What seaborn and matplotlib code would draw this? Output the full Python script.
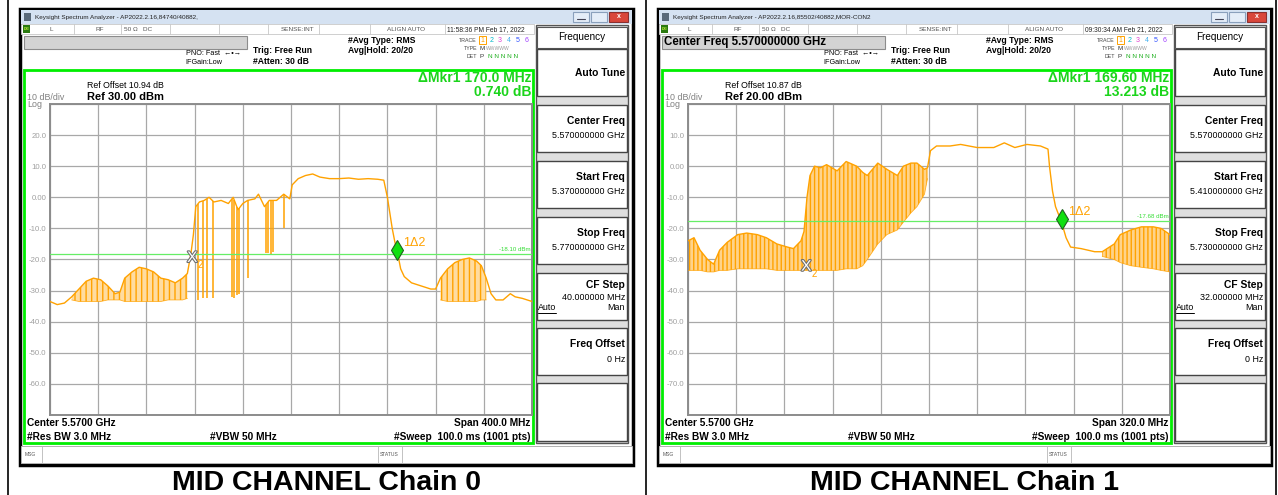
import numpy as np
import matplotlib.pyplot as plt
from matplotlib.patches import Rectangle
import matplotlib.patheffects as pe
import seaborn as sns

# ---- trace data (MHz, dBm) ----
# Chain 0 : span 5370 - 5770 MHz, ref 30 dBm
c0_freq = [5370, 5376, 5382, 5388, 5394, 5400, 5406, 5412, 5418, 5424, 5428, 5432,
           5438, 5444, 5450, 5456, 5462, 5468, 5474, 5480, 5484, 5487, 5489, 5491,
           5494, 5498, 5502, 5506, 5512, 5518, 5522, 5526, 5530, 5534, 5540, 5543,
           5548, 5552, 5558, 5564, 5569, 5571, 5576, 5582, 5588, 5594, 5602, 5610,
           5618, 5626, 5634, 5642, 5647, 5650, 5652, 5654, 5656, 5659, 5661, 5664,
           5670, 5678, 5686, 5690, 5694, 5700, 5706, 5712, 5718, 5724, 5728, 5732,
           5736, 5740, 5746, 5752, 5756, 5762, 5770]
c0_top = [-33.5, -34.5, -34.0, -32.0, -29.5, -27.0, -26.0, -26.5, -28.5, -31.0, -30.5, -26.0,
          -24.0, -22.5, -23.0, -24.0, -26.0, -26.5, -27.5, -26.0, -24.5, -18.0, -12.0, -3.0,
          -1.5, -1.0, 0.0, -1.5, -1.0, -2.0, 0.0, -4.0, -2.0, -1.0, -0.5, 1.0,
          -3.0, -1.0, -1.0, 1.0, -0.5, 4.0, 6.0, 7.0, 7.5, 6.5, 6.0, 6.0,
          6.2, 5.8, 6.0, 5.8, 5.5, 0.0, -5.0, -10.0, -14.0, -19.0, -23.0, -25.5,
          -27.5, -28.5, -29.5, -29.5, -26.0, -23.0, -21.0, -20.0, -19.5, -20.5, -22.0, -26.0,
          -31.0, -33.0, -33.0, -31.0, -32.0, -32.5, -33.5]
c0_low = [-33.5, -34.5, -34.0, -33.0, -33.5, -33.5, -33.5, -33.5, -33.0, -33.0, -33.0, -33.5,
          -33.5, -33.5, -33.5, -33.5, -33.5, -33.0, -33.0, -33.0, -32.5, -18.0, -12.0, -3.0,
          -1.5, -1.0, 0.0, -1.5, -1.0, -2.0, 0.0, -4.0, -2.0, -1.0, -0.5, 1.0,
          -3.0, -1.0, -1.0, 1.0, -0.5, 4.0, 6.0, 7.0, 7.5, 6.5, 6.0, 6.0,
          6.2, 5.8, 6.0, 5.8, 5.5, 0.0, -5.0, -10.0, -14.0, -19.0, -23.0, -25.5,
          -27.5, -28.5, -29.5, -29.5, -33.0, -33.5, -33.5, -33.5, -33.5, -33.5, -33.0, -33.0,
          -31.0, -33.0, -33.0, -31.0, -32.0, -32.5, -33.5]
c0_spike_f = [5493, 5497, 5500, 5505, 5521, 5523, 5525, 5527, 5534, 5549, 5551, 5553, 5555, 5564]
c0_spike_lo = [-33, -32.5, -32.5, -32.5, -32, -32.5, -31.5, -31, -26, -18, -18, -18.5, -17.5, -10]

# Chain 1 : span 5410 - 5730 MHz, ref 20 dBm
c1_freq = [5410, 5414, 5418, 5423, 5427, 5431, 5436, 5443, 5449, 5456, 5462, 5469,
           5476, 5480, 5485, 5487, 5489, 5491, 5494, 5498, 5502, 5509, 5515, 5522,
           5526, 5529, 5536, 5542, 5549, 5553, 5558, 5562, 5567, 5569, 5571, 5575,
           5584, 5591, 5602, 5613, 5620, 5627, 5635, 5644, 5649, 5650, 5652, 5654,
           5656, 5658, 5661, 5664, 5671, 5680, 5685, 5693, 5697, 5704, 5711, 5719,
           5724, 5730]
c1_top = [-24.0, -23.0, -27.0, -30.0, -31.5, -27.0, -24.5, -22.0, -21.5, -22.0, -23.0, -25.0,
          -26.0, -26.5, -24.0, -21.0, -10.0, -3.0, 0.0, -0.5, 0.5, -1.5, 1.5, 0.0,
          -2.0, -3.0, 1.0, -1.0, -3.0, 0.0, 1.0, 1.0, -1.0, -0.5, 5.0, 6.5,
          6.5, 7.0, 6.0, 6.0, 7.5, 6.0, 7.0, 6.5, 5.5, 0.0, -8.0, -13.0,
          -15.5, -18.0, -23.0, -26.0, -26.5, -27.5, -27.5, -25.0, -22.0, -20.5, -19.5, -19.5,
          -20.0, -22.0]
c1_low = [-33.5, -33.5, -33.5, -34.0, -34.0, -33.5, -33.5, -33.0, -33.0, -33.0, -33.0, -33.5,
          -33.5, -33.5, -33.5, -33.5, -33.5, -33.5, -33.5, -33.5, -33.5, -33.5, -33.0, -33.0,
          -32.0, -30.0, -25.0, -22.0, -20.5, -18.0, -15.0, -13.0, -9.0, -4.0, 5.0, 6.5,
          6.5, 7.0, 6.0, 6.0, 7.5, 6.0, 7.0, 6.5, 5.5, 0.0, -8.0, -13.0,
          -15.5, -18.0, -23.0, -26.0, -26.5, -27.5, -29.0, -30.0, -31.0, -32.0, -32.5, -33.0,
          -33.5, -34.0]

# scale / marker / setting values per screen
chains = ['Chain 0', 'Chain 1']
start_mhz = [5370, 5410]
stop_mhz = [5770, 5730]
ref_dbm = [30, 20]
ref_offset = ['10.94', '10.87']
mkr_delta = ['170.0 MHz', '169.60 MHz']
mkr_db = ['0.740 dB', '13.213 dB']
mkr1 = [(5658, -17.0), (5658, -17.0)]
mkr2 = [(5488, -19.5), (5488.5, -32.3)]
disp_line = [-18.10, -17.68]
span_txt = ['Span 400.0 MHz', 'Span 320.0 MHz']
start_txt = ['5.370000000 GHz', '5.410000000 GHz']
stop_txt = ['5.770000000 GHz', '5.730000000 GHz']
cfstep_txt = ['40.000000 MHz', '32.000000 MHz']
title_txt = ['Keysight Spectrum Analyzer - AP2022.2.16,84740/40882,',
             'Keysight Spectrum Analyzer - AP2022.2.16,85502/40882,MOR-CON2']
time_txt = ['11:58:36 PM Feb 17, 2022', '09:30:34 AM Feb 21, 2022']
bar_txt = ['', 'Center Freq 5.570000000 GHz']
status_x = [378, 409]

W, H = 1278, 495
ORANGE = '#ffa200'
LIME = '#00ee00'

sns.set_style('white')
plt.rcParams['font.family'] = ['Liberation Sans', 'DejaVu Sans']

fig = plt.figure(figsize=(W / 100, H / 100), dpi=100)
bg = fig.add_axes([0, 0, 1, 1], zorder=0)
bg.set_xlim(0, W)
bg.set_ylim(H, 0)
bg.axis('off')


def box(x, y, w, h, fc='white', ec='none', lw=1.0, z=1):
    bg.add_patch(Rectangle((x, y), w, h, facecolor=fc, edgecolor=ec, linewidth=lw, zorder=z))


def txt(x, y, s, size=6.5, weight='normal', color='black', ha='left', va='center', **kw):
    bg.text(x, y, s, fontsize=size, fontweight=weight, color=color, ha=ha, va=va, zorder=5, **kw)


# table borders
bg.plot([8, 8], [0, H], color='black', lw=1.2, zorder=2)
bg.plot([646, 646], [0, H], color='black', lw=1.2, zorder=2)
bg.plot([1276, 1276], [0, H], color='black', lw=1.2, zorder=2)


def panel(i, dx):
    # window frame and title bar
    box(dx + 20, 9, 613, 456, fc='white', ec='black', lw=2.5)
    box(dx + 21, 10, 611, 14, fc='#d5e2f2')
    box(dx + 24, 13, 7, 8, fc='#5a6a7a')
    txt(dx + 35, 17.5, title_txt[i], size=4.6, color='#222222')
    box(dx + 573, 12, 16, 10, fc='#e4edf8', ec='#8aa0bc', lw=0.8)
    box(dx + 591, 12, 16, 10, fc='#e4edf8', ec='#8aa0bc', lw=0.8)
    box(dx + 609, 12, 19, 10, fc='#d9463a', ec='#8a3030', lw=0.8)
    bg.plot([dx + 577, dx + 585], [19, 19], color='#445', lw=0.8, zorder=3)
    txt(dx + 618.5, 17, 'x', size=5, weight='bold', color='white', ha='center')

    # status row
    box(dx + 21, 24, 513, 10, fc='white', ec='#c8c8c8', lw=0.6)
    box(dx + 23, 25, 7, 8, fc='#2a7a10')
    txt(dx + 26.5, 29, 'LXI', size=2.5, weight='bold', color='#d8ff40', ha='center')
    for sx in [74, 121, 170, 219, 268, 319, 370, 445]:
        bg.plot([dx + sx, dx + sx], [24, 34], color='#c8c8c8', lw=0.6, zorder=2)
    txt(dx + 49, 29.5, 'L', size=4.6, color='#555555')
    txt(dx + 96, 29.5, 'RF', size=4.6, color='#555555')
    txt(dx + 124, 29.5, '50 Ω   DC', size=4.6, color='#555555')
    txt(dx + 281, 29.5, 'SENSE:INT', size=4.6, color='#555555')
    txt(dx + 387, 29.5, 'ALIGN AUTO', size=4.6, color='#555555')
    txt(dx + 447, 29.5, time_txt[i], size=4.8, color='#222222')

    # gray message bar and settings text
    box(dx + 24, 36, 223, 13, fc='#d3d3d3', ec='#8c8c8c', lw=0.8)
    if bar_txt[i]:
        txt(dx + 26, 42.5, bar_txt[i], size=8.3, weight='bold')
    txt(dx + 186, 53.5, 'PNO: Fast  \u2190\u2022\u2192', size=5.2)
    txt(dx + 185, 62, 'IFGain:Low', size=5.2)
    txt(dx + 253, 50.5, 'Trig: Free Run', size=6.2, weight='bold')
    txt(dx + 253, 62, '#Atten: 30 dB', size=6.2, weight='bold')
    txt(dx + 348, 40.5, '#Avg Type: RMS', size=6.2, weight='bold')
    txt(dx + 348, 50.5, 'Avg|Hold: 20/20', size=6.2, weight='bold')
    txt(dx + 477, 40, 'TRACE', size=3.8, color='#444444', ha='right')
    txt(dx + 477, 48, 'TYPE', size=3.8, color='#444444', ha='right')
    txt(dx + 477, 56, 'DET', size=3.8, color='#444444', ha='right')
    box(dx + 479, 36, 7, 8, fc='white', ec=ORANGE, lw=0.7)
    for k, c in enumerate([ORANGE, '#00b8c8', '#e040d0', '#40b0f0', '#3050ff', '#a040ff']):
        txt(dx + 482.5 + k * 8.8, 40, str(k + 1), size=5, color=c, ha='center')
    txt(dx + 480, 48, 'M', size=4.5, color='#333333')
    txt(dx + 486, 48, 'WWWWW', size=3.6, color='#9a9a9a')
    txt(dx + 480, 56.5, 'P', size=4.5, color='#333333')
    txt(dx + 488, 56.5, 'N N N N N', size=4.6, color='#20b020')

    # softkey column
    box(dx + 536, 25, 92, 418, fc='#dedede', ec='#555555', lw=1)
    box(dx + 537, 27, 90, 21, fc='white', ec='#555555', lw=0.8)
    txt(dx + 582, 37, 'Frequency', size=7.2, ha='center')
    keys = [('Auto Tune', '', 49), ('Center Freq', '5.570000000 GHz', 105),
            ('Start Freq', start_txt[i], 161), ('Stop Freq', stop_txt[i], 217),
            ('CF Step', cfstep_txt[i], 273), ('Freq Offset', '0 Hz', 328)]
    for name, val, ky in keys:
        box(dx + 537, ky, 90, 47, fc='white', ec='#444444', lw=1)
        if name == 'CF Step':
            txt(dx + 625, ky + 12, name, size=7.4, weight='bold', ha='right')
            txt(dx + 625, ky + 24, val, size=6.4, ha='right')
            txt(dx + 538, ky + 35, 'Auto', size=6.4, ha='left')
            bg.plot([dx + 538, dx + 556], [ky + 39.5, ky + 39.5], color='black', lw=0.7, zorder=5)
            txt(dx + 625, ky + 35, 'Man', size=6.4, ha='right')
        elif val:
            txt(dx + 625, ky + 16, name, size=7.4, weight='bold', ha='right')
            txt(dx + 625, ky + 31, val, size=6.4, ha='right')
        else:
            txt(dx + 625, ky + 24, name, size=7.4, weight='bold', ha='right')
    box(dx + 537, 383, 90, 58, fc='white', ec='#444444', lw=1)

    # green measurement frame
    box(dx + 24, 70, 509, 373, fc='white', ec=LIME, lw=2, z=1)
    txt(dx + 87, 85, 'Ref Offset %s dB' % ref_offset[i], size=6.3)
    txt(dx + 87, 96.5, 'Ref %.2f dBm' % ref_dbm[i], size=8.0, weight='bold')
    txt(dx + 27, 97, '10 dB/div', size=6.4, color='#808080')
    txt(dx + 27, 104.5, 'Log', size=6.4, color='#808080')
    txt(dx + 531, 78, '\u0394Mkr1 ' + mkr_delta[i], size=10, weight='bold', color='#1bd41b', ha='right')
    txt(dx + 531, 92, mkr_db[i], size=10, weight='bold', color='#1bd41b', ha='right')
    txt(dx + 27, 423.5, 'Center 5.5700 GHz', size=7.3, weight='bold')
    txt(dx + 530, 423.5, span_txt[i], size=7.3, weight='bold', ha='right')
    txt(dx + 27, 436.5, '#Res BW 3.0 MHz', size=7.3, weight='bold')
    txt(dx + 210, 436.5, '#VBW 50 MHz', size=7.3, weight='bold')
    txt(dx + 530, 436.5, '#Sweep  100.0 ms (1001 pts)', size=7.3, weight='bold', ha='right')

    # MSG / STATUS bar
    box(dx + 21, 446, 611, 17, fc='white', ec='#b0b0b0', lw=0.7)
    txt(dx + 25, 454.5, 'MSG', size=3.6, color='#555555')
    sx = status_x[i]
    bg.plot([dx + 42, dx + 42], [446, 463], color='#b8b8b8', lw=0.6, zorder=2)
    bg.plot([dx + sx, dx + sx], [446, 463], color='#b8b8b8', lw=0.6, zorder=2)
    bg.plot([dx + sx + 24, dx + sx + 24], [446, 463], color='#b8b8b8', lw=0.6, zorder=2)
    txt(dx + sx + 2, 454.5, 'STATUS', size=3.6, color='#555555')

    # caption
    txt(dx + 327, 483, 'MID CHANNEL ' + chains[i], size=20.5, weight='bold', ha='center')


def spectrum(i, dx, freq, top, low, spikes_f=None, spikes_lo=None):
    ax = fig.add_axes([(dx + 50) / W, 1 - 415 / H, 482 / W, 311 / H], zorder=3)
    freq = np.array(freq, dtype=float)
    top = np.array(top, dtype=float)
    low = np.array(low, dtype=float)
    band = low < top - 0.1
    ax.fill_between(freq, low, top, where=band, interpolate=False,
                    facecolor='#ffd38a' if i else '#ffdca0', edgecolor=ORANGE,
                    hatch='||||' if i else '|||', linewidth=0, zorder=2)
    if spikes_f is not None:
        tops = np.interp(spikes_f, freq, top)
        ax.vlines(spikes_f, spikes_lo, tops, color=ORANGE, lw=1.1, zorder=3)
    sns.lineplot(x=freq, y=top, ax=ax, color=ORANGE, linewidth=1.0, zorder=4)
    low_line = np.where(band, low, np.nan)
    ax.plot(freq, low_line, color=ORANGE, lw=0.6, alpha=0.8, zorder=3)

    ref = ref_dbm[i]
    ax.set_xlim(start_mhz[i], stop_mhz[i])
    ax.set_ylim(ref - 100, ref)
    ax.set_xticks(np.linspace(start_mhz[i], stop_mhz[i], 11))
    ax.set_xticklabels([])
    yt = list(range(ref - 100, ref + 1, 10))
    ax.set_yticks(yt)
    labels = []
    for v in yt:
        if v in (ref, ref - 100):
            labels.append('')
        elif v == 0:
            labels.append('0.00')
        else:
            labels.append('%.1f' % v)
    ax.set_yticklabels(labels)
    ax.tick_params(length=0, pad=2.5, labelsize=5.6, labelcolor='#a0a0a0')
    ax.grid(True, color='#a8a8a8', lw=0.9)
    for s in ax.spines.values():
        s.set_color('#8c8c8c')
        s.set_linewidth(1.4)

    # display line
    ax.axhline(disp_line[i], color='#66ee66', lw=0.9, zorder=5)
    ax.text(stop_mhz[i] - 1, disp_line[i] + 0.6, '%.2f dBm' % disp_line[i],
            fontsize=4.4, color='#33dd33', ha='right', va='bottom', zorder=6)

    # markers
    mx, my = mkr2[i]
    ax.text(mx, my, 'X', fontsize=11, color='white', ha='center', va='center', zorder=7,
            path_effects=[pe.withStroke(linewidth=1.6, foreground='#707070')])
    ax.annotate('2', (mx, my), xytext=(4, -5), textcoords='offset points',
                fontsize=7, color=ORANGE, ha='left', va='center', zorder=7)
    fx, fy = mkr1[i]
    ax.plot([fx], [fy], marker='d', markersize=10, markerfacecolor='#10e010',
            markeredgecolor='#206020', markeredgewidth=0.8, zorder=8)
    ax.annotate('1\u03942', (fx, fy), xytext=(4.5, 5), textcoords='offset points',
                fontsize=9, color=ORANGE, ha='left', va='center', zorder=8)
    return ax


panel(0, 0)
panel(1, 638)
spectrum(0, 0, c0_freq, c0_top, c0_low, c0_spike_f, c0_spike_lo)
spectrum(1, 638, c1_freq, c1_top, c1_low)

fig.savefig('out.png', dpi=100)
